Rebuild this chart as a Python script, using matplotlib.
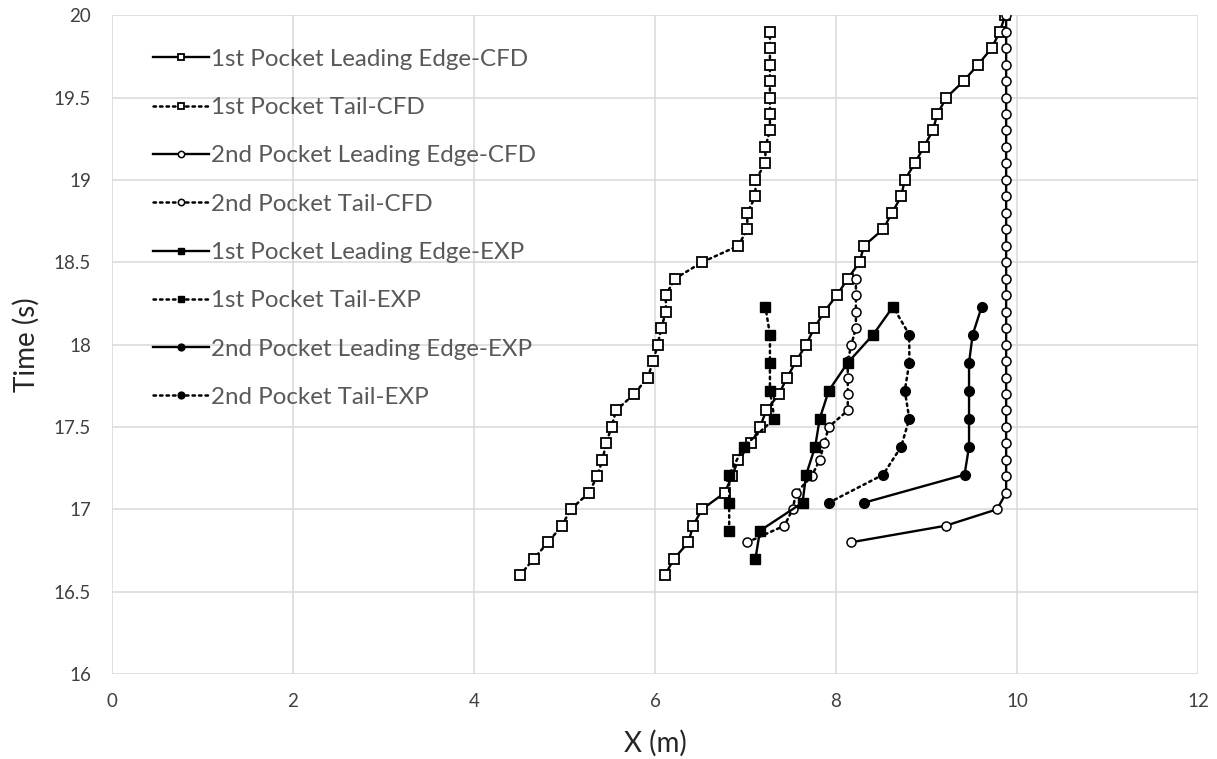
import numpy as np
import matplotlib
matplotlib.use('Agg')
import matplotlib.pyplot as plt

plt.rcParams['font.family'] = ['Lato', 'DejaVu Sans']

# 1st pocket, CFD (time steps of 0.1 s)
t_cfd1 = [16.6, 16.7, 16.8, 16.9, 17.0, 17.1, 17.2, 17.3, 17.4, 17.5, 17.6, 17.7,
          17.8, 17.9, 18.0, 18.1, 18.2, 18.3, 18.4, 18.5, 18.6, 18.7, 18.8, 18.9,
          19.0, 19.1, 19.2, 19.3, 19.4, 19.5, 19.6, 19.7, 19.8, 19.9, 20.0]
x_le1_cfd = [6.11, 6.21, 6.37, 6.42, 6.52, 6.77, 6.85, 6.92, 7.06, 7.16, 7.23, 7.37,
             7.46, 7.56, 7.67, 7.76, 7.87, 8.01, 8.13, 8.26, 8.31, 8.52, 8.62, 8.72,
             8.76, 8.87, 8.97, 9.07, 9.12, 9.22, 9.41, 9.57, 9.72, 9.81, 9.87]

t_tail1_cfd = t_cfd1[:-1]
x_tail1_cfd = [4.51, 4.66, 4.82, 4.97, 5.07, 5.27, 5.36, 5.42, 5.46, 5.52, 5.57, 5.77,
               5.92, 5.98, 6.03, 6.07, 6.12, 6.12, 6.22, 6.52, 6.92, 7.02, 7.02, 7.11,
               7.11, 7.22, 7.22, 7.27, 7.27, 7.27, 7.27, 7.27, 7.27, 7.27]

# 2nd pocket, CFD
t_le2_cfd = t_cfd1[2:]
x_le2_cfd = [8.17, 9.21, 9.78, 9.88, 9.88, 9.88, 9.88, 9.88, 9.88, 9.88, 9.88,
             9.88, 9.88, 9.88, 9.88, 9.88, 9.88, 9.88, 9.88, 9.88, 9.88, 9.88,
             9.88, 9.88, 9.88, 9.88, 9.88, 9.88, 9.88, 9.88, 9.88, 9.88, 9.88]

t_tail2_cfd = t_cfd1[2:19]
x_tail2_cfd = [7.02, 7.43, 7.52, 7.56, 7.73, 7.82, 7.87, 7.92, 8.13, 8.13, 8.13,
               8.13, 8.17, 8.22, 8.22, 8.22, 8.22]

# experiments (time steps of about 0.17 s)
t_exp = [16.70, 16.87, 17.04, 17.21, 17.38, 17.55, 17.72, 17.89, 18.06, 18.23]
x_le1_exp = [7.11, 7.16, 7.63, 7.67, 7.77, 7.82, 7.92, 8.13, 8.41, 8.63]

t_tail1_exp = t_exp[1:]
x_tail1_exp = [6.82, 6.82, 6.82, 6.98, 7.32, 7.27, 7.27, 7.27, 7.22]

t_le2_exp = t_exp[2:]
x_le2_exp = [8.31, 9.42, 9.47, 9.47, 9.47, 9.47, 9.51, 9.61]

t_tail2_exp = t_exp[2:]
x_tail2_exp = [7.92, 8.52, 8.72, 8.81, 8.76, 8.81, 8.81, 8.63]

labels = ['1st Pocket Leading Edge-CFD', '1st Pocket Tail-CFD',
          '2nd Pocket Leading Edge-CFD', '2nd Pocket Tail-CFD',
          '1st Pocket Leading Edge-EXP', '1st Pocket Tail-EXP',
          '2nd Pocket Leading Edge-EXP', '2nd Pocket Tail-EXP']

fig = plt.figure(figsize=(12.17, 7.59), dpi=100)
ax = fig.add_axes([0.092, 0.112, 0.8924, 0.868])

solid = dict(color='black', linestyle='-', linewidth=1.7)
dotted = dict(color='black', linestyle=(0, (1, 1.6)), linewidth=1.8,
              dash_capstyle='round')

ax.plot(x_le1_cfd, t_cfd1, marker='s', ms=6.8, mfc='white', mec='black', mew=1.3,
        label=labels[0], **solid)
ax.plot(x_tail1_cfd, t_tail1_cfd, marker='s', ms=6.8, mfc='white', mec='black', mew=1.3,
        label=labels[1], **dotted)
ax.plot(x_le2_cfd, t_le2_cfd, marker='o', ms=6.5, mfc='white', mec='black', mew=1.1,
        label=labels[2], **solid)
ax.plot(x_tail2_cfd, t_tail2_cfd, marker='o', ms=6.5, mfc='white', mec='black', mew=1.1,
        label=labels[3], **dotted)
ax.plot(x_le1_exp, t_exp, marker='s', ms=7, mfc='black', mec='black',
        label=labels[4], **solid)
ax.plot(x_tail1_exp, t_tail1_exp, marker='s', ms=7, mfc='black', mec='black',
        label=labels[5], **dotted)
ax.plot(x_le2_exp, t_le2_exp, marker='o', ms=7, mfc='black', mec='black',
        label=labels[6], **solid)
ax.plot(x_tail2_exp, t_tail2_exp, marker='o', ms=7, mfc='black', mec='black',
        label=labels[7], **dotted)

ax.set_xlim(0, 12)
ax.set_ylim(16, 20)
ax.set_xticks(np.arange(0, 13, 2))
ax.set_yticks(np.arange(16, 20.01, 0.5))
ax.set_yticklabels(['16', '16.5', '17', '17.5', '18', '18.5', '19', '19.5', '20'])
ax.grid(True, color='#d9d9d9', linewidth=1.1)
ax.set_axisbelow(True)
for s in ax.spines.values():
    s.set_visible(False)
ax.tick_params(length=0, labelsize=13.5, labelcolor='#404040')
ax.tick_params(axis='x', pad=14)
ax.tick_params(axis='y', pad=15)

ax.set_xlabel('X (m)', fontsize=20, color='#262626', labelpad=14)
ax.set_ylabel('Time (s)', fontsize=20, color='#262626', labelpad=10)

leg = ax.legend(loc='upper left', bbox_to_anchor=(0.018, 0.982), frameon=False,
                fontsize=17.4, labelcolor='#595959', handlelength=2.3,
                handletextpad=0.1, labelspacing=1.13, markerscale=0.7)

fig.savefig('out.png', dpi=100)
